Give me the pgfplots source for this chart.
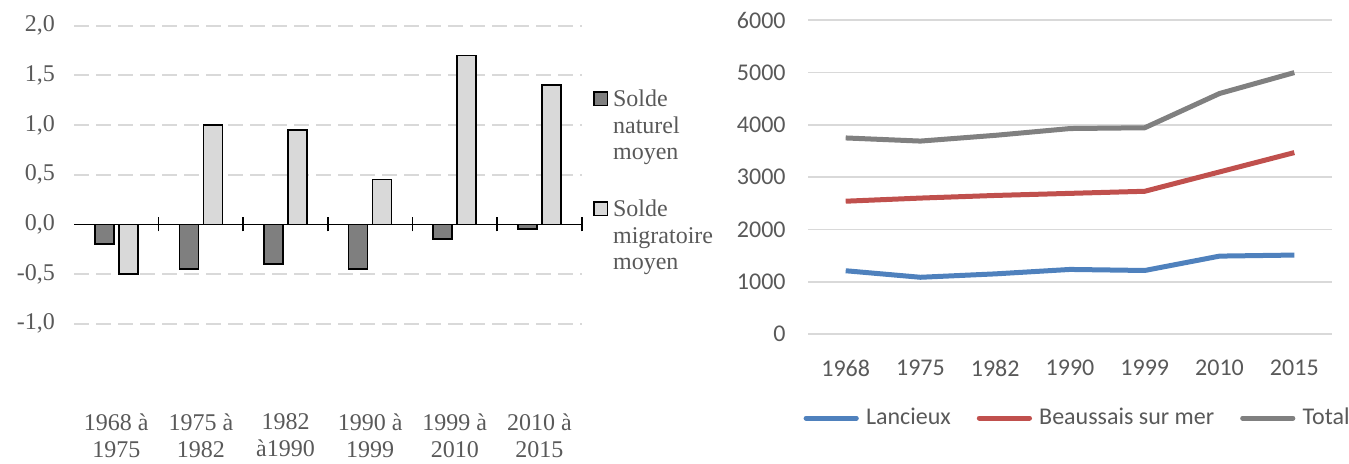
\documentclass[border=0pt]{standalone}
\usepackage{pgfplots}
\pgfplotsset{compat=1.18}
\usepackage{fontspec}
\setmainfont{Liberation Serif}
\newfontfamily\rfont{Carlito}
\definecolor{txt}{HTML}{595959}
\definecolor{gridc}{HTML}{D9D9D9}
\definecolor{dgray}{HTML}{7F7F7F}
\definecolor{lgray}{HTML}{D9D9D9}
\definecolor{cblue}{HTML}{4F81BD}
\definecolor{cred}{HTML}{C0504D}
\definecolor{cgray}{HTML}{808080}
\pgfplotsset{sqlegend/.style={legend image code/.code={\draw[##1, line width=0.8pt] (0pt,-8.9pt) rectangle (6.7pt,-2.2pt);}}}
\begin{document}
\begin{tikzpicture}
\useasboundingbox (0,0) rectangle (674.5pt,231.5pt);
% ---------------- left: bar chart ----------------
\begin{axis}[
  at={(37pt,69.65pt)}, anchor=south west, scale only axis,
  width=253.85pt, height=149.1pt,
  xmin=-0.5, xmax=5.5, ymin=-1, ymax=2,
  axis x line=middle, axis y line*=left,
  y axis line style={draw=none},
  x axis line style={-, draw=black, line width=0.8pt},
  xtick={-0.5,0.5,1.5,2.5,3.5,4.5,5.5}, xticklabels={},
  xtick style={draw=black, line width=0.8pt}, xtick align=center, major tick length=7pt,
  ytick={-1,-0.5,0.5,1,1.5,2}, ytick style={draw=none},
  extra y ticks={0}, extra y tick style={major grid style={draw=black, solid, line width=0.8pt}},
  yticklabel style={font=\fontsize{12}{14}\selectfont, text=txt, xshift=-6pt},
  /pgf/number format/fixed, /pgf/number format/fixed zerofill,
  /pgf/number format/precision=1, /pgf/number format/use comma,
  /pgf/number format/assume math mode=true,
  ymajorgrids, grid style={gridc, line width=1pt, dash pattern=on 7.5pt off 3.5pt},
  extra x ticks={0,1,2,3,4,5},
  extra x tick labels={{1968 à\\1975},{1975 à\\1982},{1982\\à1990},{1990 à\\1999},{1999 à\\2010},{2010 à\\2015}},
  extra x tick style={major tick length=0pt, grid=none,
     xticklabel style={yshift=-91pt, align=center, font=\fontsize{12}{13.5}\selectfont, text=txt}},
  legend style={draw=none, fill=none, at={(1.0217,0.7928)}, anchor=north west, inner sep=0pt,
     cells={anchor=north west, align=left}, nodes={inner sep=1pt},
     font=\fontsize{12}{13.25}\selectfont, text=txt, row sep=16.5pt,
     /tikz/every odd column/.append style={column sep=1.5pt}},
]
\addplot[ybar, bar width=9.5pt, bar shift=-6pt, fill=dgray, draw=black, line width=0.8pt, sqlegend]
  coordinates {(0,-0.2) (1,-0.45) (2,-0.4) (3,-0.45) (4,-0.15) (5,-0.05)};
\addlegendentry{Solde\\naturel\\moyen}
\addplot[ybar, bar width=9.5pt, bar shift=6pt, fill=lgray, draw=black, line width=0.8pt, sqlegend]
  coordinates {(0,-0.5) (1,1.0) (2,0.95) (3,0.45) (4,1.7) (5,1.4)};
\addlegendentry{Solde\\migratoire\\moyen}
\end{axis}
% ---------------- right: line chart ----------------
\begin{axis}[
  at={(404.15pt,64.5pt)}, anchor=south west, scale only axis,
  width=261.7pt, height=156.85pt,
  xmin=-0.5, xmax=6.5, ymin=0, ymax=6000,
  xtick={0,1,2,3,4,5,6}, xticklabels={1968,1975,1982,1990,1999,2010,2015},
  ytick={0,1000,2000,3000,4000,5000,6000},
  axis line style={draw=none}, tick style={draw=none},
  ymajorgrids, grid style={gridc, line width=0.9pt},
  ticklabel style={font=\rfont\fontsize{12}{14}\selectfont, text=txt},
  yticklabel style={xshift=-7.8pt},
  xticklabel style={yshift=-9.5pt},
  /pgf/number format/1000 sep={}, /pgf/number format/assume math mode=true,
  legend columns=3,
  legend style={draw=none, fill=none, inner sep=0pt, at={(0,-0.2678)}, anchor=west, xshift=-2.55pt,
     cells={anchor=west}, nodes={inner sep=1pt},
     font=\rfont\fontsize{12}{14}\selectfont, text=txt,
     /tikz/every even column/.append style={column sep=12pt},
     /tikz/every odd column/.append style={column sep=2.6pt}},
  legend image code/.code={\draw[#1, line width=2.5pt, line cap=round] (0pt,0pt) -- (25.1pt,0pt);},
]
\addplot[cblue, line width=2.5pt, line join=round] coordinates {(0,1210) (1,1085) (2,1150) (3,1235) (4,1215) (5,1490) (6,1510)};
\addlegendentry{Lancieux}
\addplot[cred, line width=2.5pt, line join=round] coordinates {(0,2540) (1,2600) (2,2650) (3,2690) (4,2730) (5,3100) (6,3470)};
\addlegendentry{Beaussais sur mer}
\addplot[cgray, line width=2.5pt, line join=round] coordinates {(0,3750) (1,3690) (2,3800) (3,3930) (4,3945) (5,4600) (6,5000)};
\addlegendentry{Total}
\end{axis}
\end{tikzpicture}
\end{document}
